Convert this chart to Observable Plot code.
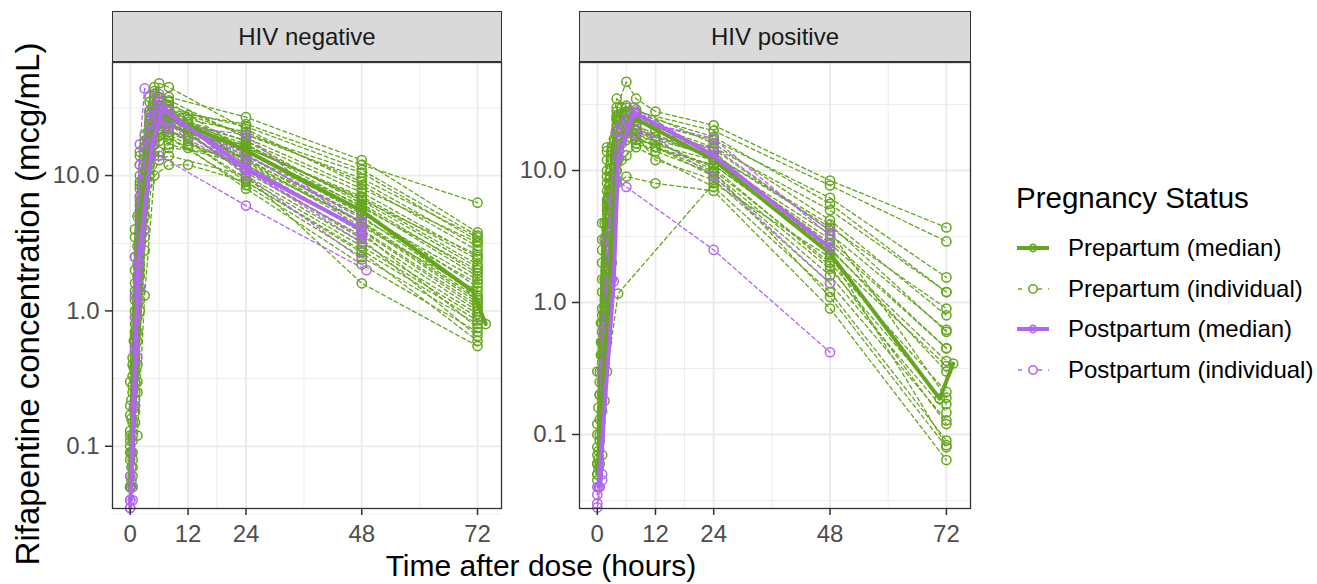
<!DOCTYPE html>
<html><head><meta charset="utf-8">
<script src="https://cdn.jsdelivr.net/npm/d3@7"></script>
<script src="https://cdn.jsdelivr.net/npm/@observablehq/plot@0.6"></script>
<style>
body{margin:0;background:#fff;font-family:"Liberation Sans",Arial,Helvetica,sans-serif;}
#root{position:relative;width:1317px;height:584px;overflow:hidden;background:#fff;}
.strip{position:absolute;background:#d9d9d9;border:1.3px solid #333;box-sizing:border-box;display:flex;align-items:center;justify-content:center;font-size:24px;color:#1a1a1a;}
.panel{position:absolute;top:60px;}
#xtitle{position:absolute;left:241px;width:600px;top:549px;text-align:center;font-size:30px;color:#000;line-height:34px;}
#ytitle{position:absolute;left:-272px;width:600px;top:286px;text-align:center;font-size:33px;color:#000;line-height:36px;transform:rotate(-90deg);transform-origin:50% 50%;}
#legend{position:absolute;left:1016px;top:180px;}
#legend .ttl{font-size:29.5px;color:#000;line-height:36px;margin-bottom:12px;}
#legend .item{display:flex;align-items:center;height:40.5px;font-size:24px;color:#000;}
#legend svg{margin-right:18px;}
</style></head>
<body>
<div id="root">
  <div class="strip" style="left:112px;top:11px;width:390px;height:51px;" id="s0"></div>
  <div class="strip" style="left:579px;top:11px;width:392px;height:51px;" id="s1"></div>
  <div class="panel" id="p0" style="left:0px;"></div>
  <div class="panel" id="p1" style="left:505px;"></div>
  <div id="xtitle">Time after dose (hours)</div>
  <div id="ytitle">Rifapentine concentration (mcg/mL)</div>
  <div id="legend"></div>
</div>
<script>
// ---------- data ----------
const facets = ["HIV negative", "HIV positive"];
const groups = ["Prepartum (median)", "Prepartum (individual)", "Postpartum (median)", "Postpartum (individual)"];
const xTicks = [0, 12, 24, 48, 72];
const yTicks = [0.1, 1, 10];

// HIV negative, prepartum individuals: [time (h), concentration (mcg/mL)]
const negPreIndiv = [
  [[0,0.05],[1,0.6],[2,4.5],[4,22],[6,35],[8,30],[24,24],[48,12],[72,6.3]],
  [[0.25,0.22],[1,1.2],[2,8],[5,40],[8,38],[24,27],[48,13],[72,3.8]],
  [[0,0.1],[1,0.3],[2,2.5],[4,15],[6,30],[12,28],[24,20],[48,9.5],[72,3.5]],
  [[0,0.05],[1,2.5],[2,12],[4,35],[6,48],[8,45],[24,22],[48,8.5],[72,2.8]],
  [[0.5,0.12],[1,0.15],[2,1.0],[4,10],[6,25],[8,28],[24,18],[48,7.5],[72,2.5]],
  [[0,0.05],[1,0.8],[2,6],[4,28],[6,33],[12,25],[24,16],[48,6.8],[72,2.2]],
  [[0,0.11],[1,3.5],[2,15],[4,38],[5,45],[8,35],[24,15],[48,6],[72,1.8]],
  [[0.25,0.09],[1,0.25],[2,1.8],[4,12],[6,22],[8,24],[24,14],[48,5.5],[72,1.5]],
  [[0,0.09],[1,0.45],[2,3],[4,18],[6,28],[12,22],[24,13],[48,5],[72,1.3]],
  [[0,0.05],[1,1.6],[2,9],[4,30],[6,38],[8,32],[24,12.5],[48,4.5],[72,1.2]],
  [[0,0.2],[1,0.7],[2,4],[4,16],[6,20],[8,21],[24,11],[48,4],[72,1.1]],
  [[0.5,0.45],[1,0.35],[2,2],[4,14],[6,26],[12,20],[24,10.5],[48,3.6],[72,1.0]],
  [[0,0.13],[1,2],[2,10],[4,25],[5,30],[8,27],[24,10],[48,3.2],[72,0.95]],
  [[0.25,0.16],[1,0.5],[2,5],[4,20],[6,24],[8,22],[24,9.5],[48,3],[72,0.9]],
  [[0,0.08],[1,1],[2,7],[4,22],[6,29],[12,18],[24,9],[48,2.8],[72,0.85]],
  [[0.75,0.6],[1,0.2],[2,1.4],[4,11],[6,18],[8,19],[24,8.5],[48,2.5],[72,0.8]],
  [[0,0.3],[1,4],[2,14],[4,30],[6,36],[8,30],[24,12],[48,3.8],[72,0.75]],
  [[0.5,0.28],[1,0.4],[2,3.5],[4,17],[6,21],[12,16],[24,8],[48,2.2],[72,0.7]],
  [[0,0.06],[1,0.9],[2,6.5],[4,24],[6,31],[8,25],[24,11],[48,3.4],[72,0.65]],
  [[0.25,0.07],[1,0.18],[2,1.2],[4,9],[6,13],[8,14],[24,10],[48,1.6],[72,0.55]],
  [[0,0.17],[1,1.4],[2,8.5],[4,19],[6,22],[12,19],[24,17],[48,5.8],[72,2.0]],
  [[0.75,0.38],[1,0.55],[2,3.2],[4,12],[6,15],[8,16],[24,14],[48,4.8],[72,1.6]],
  [[0,0.05],[1,0.22],[2,2.2],[4,26],[5,42],[8,36],[24,19],[48,8],[72,3.2]],
  [[0,0.12],[1,0.65],[2,5.5],[4,21],[6,27],[8,26],[24,13],[48,4.2],[72,1.4]],
  [[0.5,0.08],[1.5,1.1],[3,9],[5,33],[8,30],[12,26],[24,21],[48,9],[72,3.0]],
  [[0.5,0.11],[1.5,0.4],[3,4],[5,19],[8,23],[24,16],[48,7],[72,2.4]],
  [[0.5,0.15],[1.5,2.2],[3,18],[5,36],[8,33],[24,20],[48,10.5],[72,3.3]],
  [[0.5,0.06],[1.5,0.7],[3,6],[5,24],[8,25],[12,21],[24,15],[48,5.2],[72,1.7]],
  [[0.25,0.055],[1.5,0.3],[3,2.8],[5,14],[8,17],[24,12],[48,4.6],[72,1.25]],
  [[0.5,0.4],[1.5,5],[3,20],[5,32],[8,28],[12,24],[24,17],[48,6.5],[72,2.1]],
  [[0.75,0.19],[1.5,0.12],[3,1.3],[5,10],[8,12],[12,12],[24,9],[48,2.7],[72,0.6]],
  [[0.5,0.07],[1.5,0.9],[3,8],[5,26],[8,27],[24,18],[48,6.2],[72,1.9]],
  [[0.5,0.05],[1.5,1.8],[3,11],[5,29],[8,31],[24,23],[48,11],[72,3.6]],
  [[0.5,0.09],[1.5,0.6],[3,5],[5,17],[8,20],[12,17],[24,12],[48,3.9],[72,1.05]],
  [[0.5,0.33],[1.5,0.25],[3,3.5],[5,22],[8,24],[24,13.5],[48,4.4],[72,1.15]],
  [[0.5,0.25],[1.5,3],[3,16],[5,28],[8,26],[12,23],[24,16.5],[48,6.6],[72,2.6]]
];
// HIV negative, postpartum individuals
const negPostIndiv = [
  [[0,0.035],[1,0.5],[2,5],[4,25],[6,40],[8,30],[24,12],[48,4]],
  [[0,0.05],[1,1.3],[2,12],[4,30],[6,28],[24,14],[48,5]],
  [[0,0.04],[1,0.2],[2,1.5],[4,17],[6,32],[8,22],[24,11],[48,3.5]],
  [[0,0.06],[1,2.5],[2,17],[3,44],[6,35],[24,10],[48,2.4]],
  [[0,0.04],[1,0.55],[2,3],[4,13],[6,14],[24,6],[49,2.0]],
  [[0,0.05],[1,0.9],[2,7],[4,20],[6,26],[8,24],[24,20],[48,3.8]],
  [[0.5,0.05],[1.5,1.2],[3,10],[5,28],[8,26],[24,14.5],[48,4.5]],
  [[0.5,0.04],[1.5,0.45],[3,4],[5,22],[8,24],[24,11],[48,3.2]]
];
// HIV negative medians
const negPreMedian = [[0,0.05],[1,0.7],[2,5],[4.5,20],[6.5,28],[8,27],[24,15.3],[48,5.5],[71,1.4],[73.7,0.8]];
const negPostMedian = [[0,0.035],[1.7,2.3],[4.6,17.5],[6.7,31],[24,11.3],[48,4.0]];

// HIV positive, prepartum individuals
const posPreIndiv = [
  [[0,0.05],[1,0.8],[2,6],[4,30],[6,47],[8,35],[12,28],[24,22],[48,8.4],[72,3.7]],
  [[0,0.06],[1,2],[2,12],[4,35],[6,30],[8,28],[24,20],[48,7.7],[72,2.9]],
  [[0.5,0.13],[1,0.3],[2,3],[4,20],[6,28],[12,22],[24,17],[48,6.2],[72,1.55]],
  [[0,0.08],[1,4],[2,15],[4,28],[8,24],[24,15],[48,5],[72,1.2]],
  [[0.25,0.075],[1,0.15],[2,1.5],[4,12],[6,22],[12,18],[24,13],[48,3.7],[72,0.9]],
  [[0,0.1],[1,1.2],[2,8],[4,25],[6,26],[8,22],[24,12],[48,3.3],[72,0.62]],
  [[0.75,0.7],[1,0.5],[2,4],[4,18],[6,20],[12,15],[24,11],[48,2.5],[72,0.36]],
  [[0,0.045],[1,0.07],[2,0.3],[4.3,1.17],[24,8],[48,2.2],[72,0.33]],
  [[0.5,0.25],[1,0.6],[2,5],[4,22],[6,24],[8,20],[24,10],[48,2.0],[72,0.21]],
  [[0,0.07],[1,1.5],[2,9],[4,16],[6,17],[12,14],[24,9.5],[48,1.8],[72,0.17]],
  [[0.25,0.16],[1,0.25],[2,2.5],[4,14],[6,19],[8,18],[24,9],[48,1.6],[72,0.147]],
  [[0,0.06],[1,0.9],[2,7],[4,20],[6,23],[12,12],[24,8.5],[48,1.4],[72,0.128]],
  [[0.75,0.4],[1,0.4],[2,3.5],[4,10],[6,13],[8,15],[24,7.5],[48,1.2],[72,0.09]],
  [[0,0.12],[1,3],[2,14],[4,24],[6,27],[8,25],[24,14],[48,2.3],[72,0.083]],
  [[0.5,0.1],[1,0.2],[2,2],[4,8],[6,9],[12,8],[24,7],[48,0.9],[72,0.064]],
  [[0,0.3],[1,2.5],[2,10],[4,26],[6,31],[8,29],[24,16],[48,4.2],[72,0.8]],
  [[0.25,0.055],[1,0.7],[2,5.5],[4,15],[6,21],[8,20],[24,12.5],[48,2.8],[72,0.45]],
  [[0.5,0.3],[1.5,1.5],[3,12],[5,30],[8,27],[24,18],[48,5.6],[72,1.2]],
  [[0.5,0.06],[1.5,0.5],[3,5],[5,22],[8,22],[12,17],[24,13],[48,3.9],[72,0.6]],
  [[0.75,0.5],[1.5,0.18],[3,2],[5,12],[8,16],[24,11],[48,2.6],[72,0.3]],
  [[0.5,0.09],[1.5,3],[3,15],[5,27],[8,24],[12,20],[24,14.5],[48,3.5],[72,0.19]],
  [[0.25,0.065],[1.5,0.8],[3,7],[5,18],[8,19],[24,10.5],[48,1.9],[72,0.12]],
  [[0.5,0.2],[1.5,4],[3,14],[5,21],[8,20],[12,15],[24,9.8],[48,1.1],[72,0.08]],
  [[0.5,0.2],[1.5,0.35],[3,4],[5,16],[8,17],[24,12],[48,3.0],[72,0.45]]
];
// HIV positive, postpartum individuals
const posPostIndiv = [
  [[0,0.028],[1,0.045],[3,1.5],[4.5,14],[7.5,30],[24,13],[48,2.6]],
  [[0,0.04],[1,0.3],[3,6],[5,22],[8,24],[24,17.5],[48,3.2]],
  [[0,0.03],[1,0.05],[2,0.5],[4,8.4],[6,7.5],[24,2.5],[48,0.42]],
  [[0,0.035],[1,0.6],[2,3],[4,20],[6,25],[24,9],[48,1.4]],
  [[0.5,0.04],[1.5,0.35],[3,3.5],[5,17],[8,19],[24,15],[48,3.5]]
];
// HIV positive medians
const posPreMedian = [[0,0.05],[2.3,1.0],[3.9,12.5],[7.6,25],[24,12],[48,2.35],[70.6,0.187],[73.4,0.345]];
const posPostMedian = [[0.3,0.04],[3.4,1.45],[4.3,12.5],[7.6,27.5],[24,13],[48,2.6]];

// panel y ranges (free scales)
const yDomains = [[0.0347, 68.4], [0.0275, 65.8]];
const yMinor = [[0.0316, 0.316, 3.16, 31.6], [0.0316, 0.316, 3.16, 31.6]];
const xMinor = [6, 18, 36, 60];

// ---------- styling ----------
const GREEN = "#66A61E", PURPLE = "#B066F0";
const FONT = "'Liberation Sans', Arial, Helvetica, sans-serif";

const toRows = (indiv) => indiv.flatMap((pts, i) => pts.map(([t, c]) => ({id: i, t, c})));
const medRows = (pts) => pts.map(([t, c]) => ({t, c}));

function panel(preI, postI, preM, postM, yDom, yMin, width, marginLeft) {
  const pre = toRows(preI), post = toRows(postI);
  const mPre = medRows(preM), mPost = medRows(postM);
  return Plot.plot({
    width, height: 488,
    marginLeft, marginRight: 4, marginTop: 2, marginBottom: 40,
    style: {fontSize: "24px", fontFamily: FONT, background: "transparent", overflow: "visible"},
    x: {domain: [-3.67, 76.97]},
    y: {type: "log", domain: yDom},
    marks: [
      Plot.gridX(xMinor, {stroke: "#ebebeb", strokeOpacity: 1, strokeWidth: 0.9}),
      Plot.gridY(yMin, {stroke: "#ebebeb", strokeOpacity: 1, strokeWidth: 0.9}),
      Plot.gridX(xTicks, {stroke: "#ebebeb", strokeOpacity: 1, strokeWidth: 1.8}),
      Plot.gridY(yTicks, {stroke: "#ebebeb", strokeOpacity: 1, strokeWidth: 1.8}),
      Plot.line(pre, {x: "t", y: "c", z: "id", stroke: GREEN, strokeWidth: 1.3, strokeDasharray: "4,3"}),
      Plot.dot(pre, {x: "t", y: "c", stroke: GREEN, r: 4.6, strokeWidth: 1.5}),
      Plot.line(post, {x: "t", y: "c", z: "id", stroke: PURPLE, strokeWidth: 1.3, strokeDasharray: "4,3"}),
      Plot.dot(post, {x: "t", y: "c", stroke: PURPLE, r: 4.6, strokeWidth: 1.5}),
      Plot.line(mPre, {x: "t", y: "c", stroke: GREEN, strokeWidth: 4}),
      Plot.dot(mPre, {x: "t", y: "c", stroke: GREEN, r: 4.6, strokeWidth: 1.5}),
      Plot.line(mPost, {x: "t", y: "c", stroke: PURPLE, strokeWidth: 4}),
      Plot.dot(mPost, {x: "t", y: "c", stroke: PURPLE, r: 4.6, strokeWidth: 1.5}),
      Plot.frame({stroke: "#333", strokeWidth: 1.3}),
      Plot.axisX({ticks: xTicks, tickSize: 7, tickPadding: 9, stroke: "#333", strokeWidth: 1.5, fill: "#4d4d4d", label: null, tickFormat: d3.format("d")}),
      Plot.axisY({ticks: yTicks, tickSize: 7, tickPadding: 6, stroke: "#333", strokeWidth: 1.5, fill: "#4d4d4d", label: null, tickFormat: d3.format(".1f")})
    ]
  });
}

document.getElementById("s0").textContent = facets[0];
document.getElementById("s1").textContent = facets[1];
document.getElementById("p0").appendChild(panel(negPreIndiv, negPostIndiv, negPreMedian, negPostMedian, yDomains[0], yMinor[0], 505, 112));
document.getElementById("p1").appendChild(panel(posPreIndiv, posPostIndiv, posPreMedian, posPostMedian, yDomains[1], yMinor[1], 469, 74));

// ---------- legend ----------
const legend = document.getElementById("legend");
const ttl = document.createElement("div");
ttl.className = "ttl"; ttl.textContent = "Pregnancy Status";
legend.appendChild(ttl);
const keyColors = [GREEN, GREEN, PURPLE, PURPLE];
groups.forEach((g, i) => {
  const item = document.createElement("div");
  item.className = "item";
  const median = i % 2 === 0;
  const c = keyColors[i];
  item.innerHTML = `<svg width="34" height="20" viewBox="0 0 34 20">
    <line x1="1" x2="33" y1="10" y2="10" stroke="${c}" stroke-width="${median ? 4 : 1.6}" ${median ? "" : 'stroke-dasharray="4,6" stroke-dashoffset="-1"'}/>
    <circle cx="17" cy="10" r="${median ? 3.6 : 4.2}" fill="${median ? "none" : "white"}" stroke="${c}" stroke-width="1.6"/>
  </svg><span>${g}</span>`;
  legend.appendChild(item);
});
</script>
</body></html>
